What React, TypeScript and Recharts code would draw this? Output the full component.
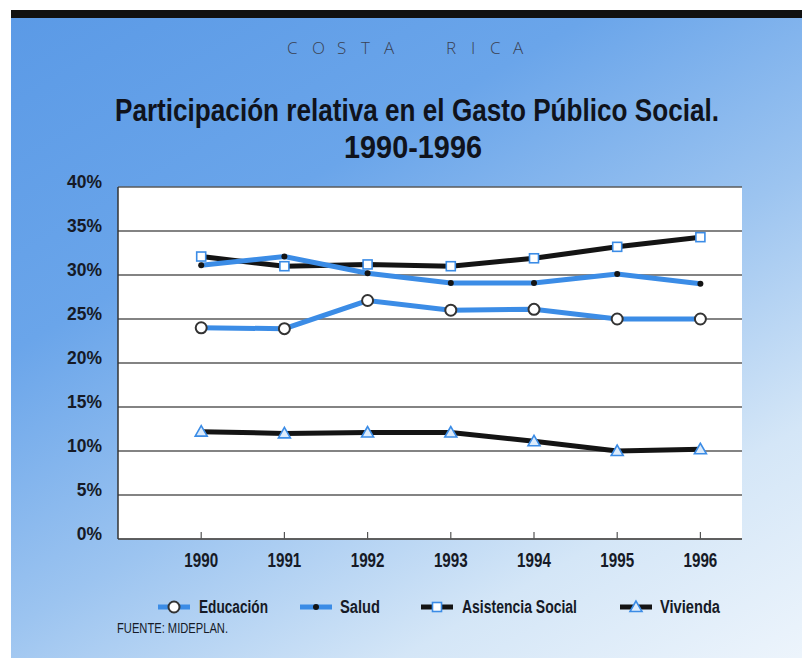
import React from "react";
import { LineChart, Line, XAxis, YAxis, CartesianGrid } from "recharts";

const years = [1990, 1991, 1992, 1993, 1994, 1995, 1996];
const educacion = [24, 23.9, 27.1, 26, 26.1, 25, 25];
const salud = [31.1, 32.1, 30.2, 29.1, 29.1, 30.1, 29];
const asistenciaSocial = [32.1, 31, 31.2, 31, 31.9, 33.2, 34.3];
const vivienda = [12.2, 12, 12.1, 12.1, 11.1, 10, 10.2];
const yTicks = [0, 5, 10, 15, 20, 25, 30, 35, 40];

const FONT = '"Liberation Sans", Arial, sans-serif';
const BLUE = "#3b8ce6";
const BLACK = "#141414";
const INK = "#161a26";

type Row = { year: number; edu: number; sal: number; asi: number; viv: number };

const rows: Row[] = years.map((year, i) => ({
  year,
  edu: educacion[i],
  sal: salud[i],
  asi: asistenciaSocial[i],
  viv: vivienda[i],
}));

type DotProps = { cx?: number; cy?: number; key?: string };

const CircleDot = ({ cx, cy }: DotProps) => (
  <circle cx={cx} cy={cy} r={5.5} fill="#fff" stroke="#333" strokeWidth={2} />
);

const SmallDot = ({ cx, cy }: DotProps) => <circle cx={cx} cy={cy} r={3} fill={BLACK} />;

const SquareDot = ({ cx = 0, cy = 0 }: DotProps) => (
  <rect x={cx - 4.5} y={cy - 4.5} width={9} height={9} fill="#fff" stroke={BLUE} strokeWidth={1.6} />
);

const TriDot = ({ cx = 0, cy = 0 }: DotProps) => (
  <polygon
    points={`${cx},${cy - 6} ${cx - 6},${cy + 4.5} ${cx + 6},${cy + 4.5}`}
    fill="#dcebfb"
    stroke={BLUE}
    strokeWidth={1.6}
  />
);

// condensed look: plain font squeezed horizontally
const XTick = (props: any) => {
  const { x, y, payload } = props;
  return (
    <text
      transform={`translate(${x},${y + 15}) scale(0.76,1)`}
      textAnchor="middle"
      fontSize={20}
      fontWeight={700}
      fontFamily={FONT}
      fill={INK}
    >
      {payload.value}
    </text>
  );
};

const YTick = (props: any) => {
  const { x, y, payload } = props;
  return (
    <text
      transform={`translate(${x - 16},${y + 1}) scale(0.92,1)`}
      textAnchor="end"
      fontSize={19}
      fontWeight={700}
      fontFamily={FONT}
      fill={INK}
    >
      {`${payload.value}%`}
    </text>
  );
};

const legendItems = [
  { name: "Educación", color: BLUE, Marker: CircleDot, icon: 158, text: 199, len: 69 },
  { name: "Salud", color: BLUE, Marker: SmallDot, icon: 300, text: 340, len: 40 },
  { name: "Asistencia Social", color: BLACK, Marker: SquareDot, icon: 421, text: 462, len: 115 },
  { name: "Vivienda", color: BLACK, Marker: TriDot, icon: 620, text: 660, len: 60 },
];

export default function App() {
  return (
    <div
      style={{
        position: "relative",
        width: 810,
        height: 666,
        margin: -8,
        background: "#fff",
        overflow: "hidden",
        fontFamily: FONT,
      }}
    >
      <div style={{ position: "absolute", left: 11, top: 10, right: 0, height: 8, background: "#111" }} />
      <div
        style={{
          position: "absolute",
          left: 11,
          top: 18,
          right: 0,
          bottom: 0,
          background:
            "linear-gradient(150deg, #5b9ae6 0%, #6aa5ea 30%, #9cc4f0 55%, #d4e6f7 78%, #eef5fc 100%)",
        }}
      />

      <div style={{ position: "absolute", left: 0, top: 0 }}>
        <LineChart
          width={810}
          height={666}
          data={rows}
          margin={{ top: 187, right: 68, bottom: 97, left: 58 }}
        >
          <CartesianGrid horizontal vertical={false} stroke="#5a5a5a" strokeWidth={1.5} fill="#fff" fillOpacity={1} />
          <XAxis
            dataKey="year"
            type="number"
            domain={[1989, 1996.5]}
            ticks={years}
            height={30}
            axisLine={{ stroke: "#555", strokeWidth: 1.5 }}
            tickLine={{ stroke: "#555", strokeWidth: 1.2 }}
            tickSize={-7}
            tickMargin={20}
            tick={<XTick />}
          />
          <YAxis
            type="number"
            domain={[0, 40]}
            ticks={yTicks}
            width={60}
            axisLine={{ stroke: "#333", strokeWidth: 1.5 }}
            tickLine={false}
            tickSize={0}
            tickMargin={0}
            tick={<YTick />}
          />
          <Line
            dataKey="asi"
            stroke={BLACK}
            strokeWidth={5}
            dot={(p: DotProps) => <SquareDot key={p.key} cx={p.cx} cy={p.cy} />}
            isAnimationActive={false}
          />
          <Line
            dataKey="viv"
            stroke={BLACK}
            strokeWidth={5}
            dot={(p: DotProps) => <TriDot key={p.key} cx={p.cx} cy={p.cy} />}
            isAnimationActive={false}
          />
          <Line
            dataKey="edu"
            stroke={BLUE}
            strokeWidth={5}
            dot={(p: DotProps) => <CircleDot key={p.key} cx={p.cx} cy={p.cy} />}
            isAnimationActive={false}
          />
          <Line
            dataKey="sal"
            stroke={BLUE}
            strokeWidth={5}
            dot={(p: DotProps) => <SmallDot key={p.key} cx={p.cx} cy={p.cy} />}
            isAnimationActive={false}
          />
        </LineChart>
      </div>

      <svg
        width={810}
        height={666}
        style={{ position: "absolute", left: 0, top: 0, pointerEvents: "none" }}
        fontFamily={FONT}
      >
        <text
          x="287 312 337 361 384 446 471 490 513"
          y={54}
          fontSize={17}
          fill="#3a4152"
          fontFamily='"Open Sans", sans-serif'
          fontWeight={300}
        >
          COSTARICA
        </text>
        <text
          x={115}
          y={121}
          fontSize={32}
          fontWeight={700}
          fill="#10131c"
          textLength={604}
          lengthAdjust="spacingAndGlyphs"
        >
          Participación relativa en el Gasto Público Social.
        </text>
        <text
          x={344}
          y={158}
          fontSize={32}
          fontWeight={700}
          fill="#10131c"
          textLength={138}
          lengthAdjust="spacingAndGlyphs"
        >
          1990-1996
        </text>

        {legendItems.map((item) => (
          <g key={item.name}>
            <line
              x1={item.icon}
              y1={607}
              x2={item.icon + 32}
              y2={607}
              stroke={item.color}
              strokeWidth={5}
            />
            <item.Marker cx={item.icon + 16} cy={607} />
            <text
              x={item.text}
              y={613}
              fontSize={18}
              fontWeight={700}
              fill={INK}
              textLength={item.len}
              lengthAdjust="spacingAndGlyphs"
            >
              {item.name}
            </text>
          </g>
        ))}

        <text x={117} y={633} fontSize={14} fill={INK} textLength={111} lengthAdjust="spacingAndGlyphs">
          FUENTE: MIDEPLAN.
        </text>
      </svg>
    </div>
  );
}
